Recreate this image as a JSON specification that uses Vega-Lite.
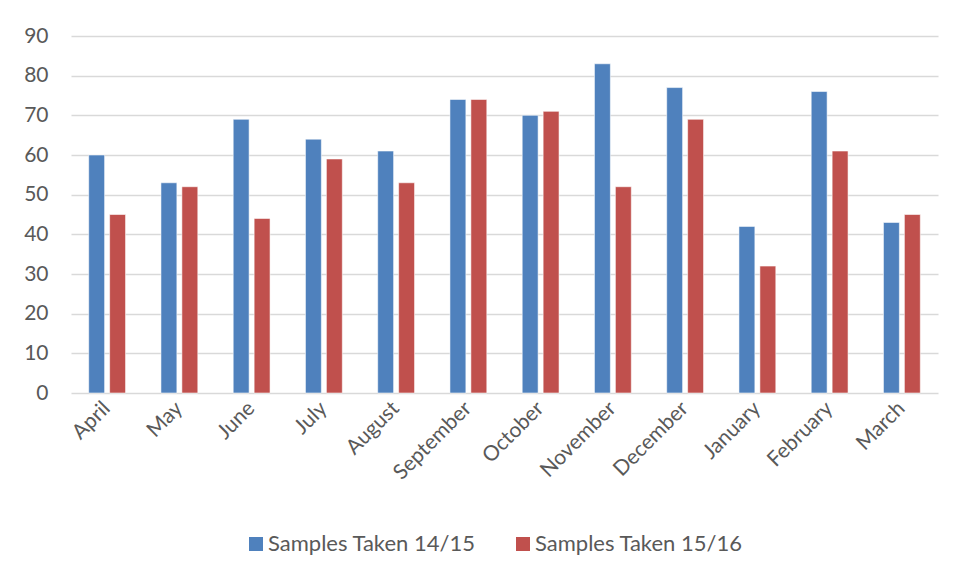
{
  "$schema": "https://vega.github.io/schema/vega-lite/v6.json",
  "width": 867,
  "height": 357,
  "autosize": {"type": "none"},
  "padding": {"left": 71, "top": 36, "right": 21, "bottom": 186},
  "background": "white",
  "config": {
    "view": {"stroke": null},
    "font": "Lato"
  },
  "data": {
    "values": [
      {"month": "April", "series": "Samples Taken 14/15", "value": 60},
      {"month": "April", "series": "Samples Taken 15/16", "value": 45},
      {"month": "May", "series": "Samples Taken 14/15", "value": 53},
      {"month": "May", "series": "Samples Taken 15/16", "value": 52},
      {"month": "June", "series": "Samples Taken 14/15", "value": 69},
      {"month": "June", "series": "Samples Taken 15/16", "value": 44},
      {"month": "July", "series": "Samples Taken 14/15", "value": 64},
      {"month": "July", "series": "Samples Taken 15/16", "value": 59},
      {"month": "August", "series": "Samples Taken 14/15", "value": 61},
      {"month": "August", "series": "Samples Taken 15/16", "value": 53},
      {"month": "September", "series": "Samples Taken 14/15", "value": 74},
      {"month": "September", "series": "Samples Taken 15/16", "value": 74},
      {"month": "October", "series": "Samples Taken 14/15", "value": 70},
      {"month": "October", "series": "Samples Taken 15/16", "value": 71},
      {"month": "November", "series": "Samples Taken 14/15", "value": 83},
      {"month": "November", "series": "Samples Taken 15/16", "value": 52},
      {"month": "December", "series": "Samples Taken 14/15", "value": 77},
      {"month": "December", "series": "Samples Taken 15/16", "value": 69},
      {"month": "January", "series": "Samples Taken 14/15", "value": 42},
      {"month": "January", "series": "Samples Taken 15/16", "value": 32},
      {"month": "February", "series": "Samples Taken 14/15", "value": 76},
      {"month": "February", "series": "Samples Taken 15/16", "value": 61},
      {"month": "March", "series": "Samples Taken 14/15", "value": 43},
      {"month": "March", "series": "Samples Taken 15/16", "value": 45}
    ]
  },
  "mark": {"type": "bar", "stroke": "white", "strokeWidth": 0.8, "strokeOpacity": 0.7},
  "encoding": {
    "x": {
      "field": "month",
      "type": "nominal",
      "sort": null,
      "scale": {"paddingInner": 0.49, "paddingOuter": 0.245},
      "axis": {
        "title": null,
        "labelAngle": -45,
        "labelAlign": "right",
        "labelBaseline": "middle",
        "labelPadding": 12,
        "labelFont": "Lato",
        "labelFontSize": 21,
        "labelColor": "#595959",
        "labelLimit": 0,
        "ticks": false,
        "domain": false
      }
    },
    "xOffset": {
      "field": "series",
      "type": "nominal",
      "scale": {"paddingInner": 0.24}
    },
    "y": {
      "field": "value",
      "type": "quantitative",
      "scale": {"domain": [0, 90], "nice": false},
      "axis": {
        "title": null,
        "values": [0, 10, 20, 30, 40, 50, 60, 70, 80, 90],
        "grid": true,
        "gridColor": "#D9D9D9",
        "gridWidth": 1.4,
        "ticks": false,
        "domain": false,
        "labelPadding": 23,
        "labelFont": "Lato",
        "labelFontSize": 21,
        "labelColor": "#595959"
      }
    },
    "color": {
      "field": "series",
      "type": "nominal",
      "scale": {"range": ["#4F81BD", "#C0504D"]},
      "legend": {
        "title": null,
        "orient": "none",
        "direction": "horizontal",
        "legendX": 174,
        "legendY": 497,
        "symbolType": "square",
        "symbolSize": 196,
        "symbolStrokeWidth": 0,
        "labelOffset": 1,
        "columnPadding": 36,
        "labelLimit": 0,
        "labelFont": "Lato",
        "labelFontSize": 22,
        "labelColor": "#595959"
      }
    }
  }
}
